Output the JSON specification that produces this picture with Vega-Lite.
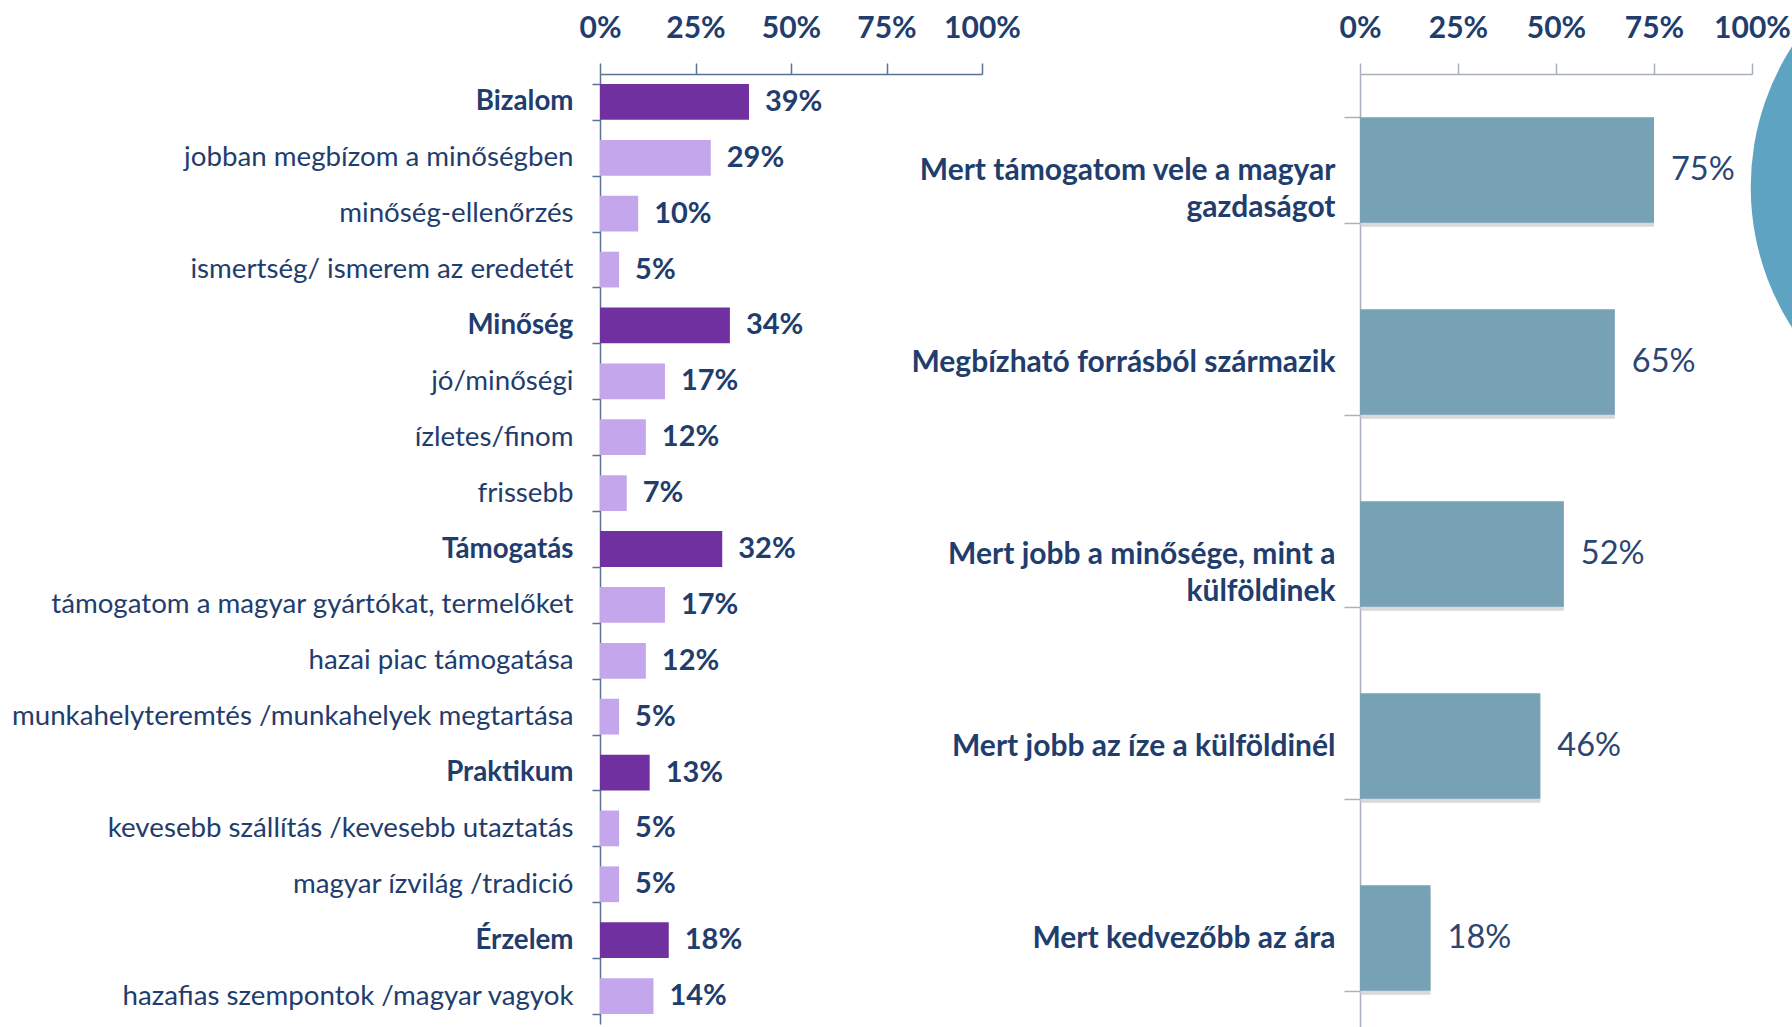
{
  "$schema": "https://vega.github.io/schema/vega-lite/v6.json",
  "background": "white",
  "padding": {"left": 11, "top": 13, "right": 0, "bottom": 0},
  "autosize": {"type": "pad"},
  "config": {
    "view": {"stroke": null},
    "font": "Lato",
    "axis": {"grid": false, "title": null, "labelFont": "Lato"}
  },
  "bounds": "flush",
  "spacing": 378,
  "hconcat": [
    {
      "width": 382,
      "height": 950,
      "data": {
        "values": [
          {"cat": "Bizalom", "v": 0.39, "level": "main"},
          {"cat": "jobban megbízom a minőségben", "v": 0.29, "level": "sub"},
          {"cat": "minőség-ellenőrzés", "v": 0.10, "level": "sub"},
          {"cat": "ismertség/ ismerem az eredetét", "v": 0.05, "level": "sub"},
          {"cat": "Minőség", "v": 0.34, "level": "main"},
          {"cat": "jó/minőségi", "v": 0.17, "level": "sub"},
          {"cat": "ízletes/finom", "v": 0.12, "level": "sub"},
          {"cat": "frissebb", "v": 0.07, "level": "sub"},
          {"cat": "Támogatás", "v": 0.32, "level": "main"},
          {"cat": "támogatom a magyar gyártókat, termelőket", "v": 0.17, "level": "sub"},
          {"cat": "hazai piac támogatása", "v": 0.12, "level": "sub"},
          {"cat": "munkahelyteremtés /munkahelyek megtartása", "v": 0.05, "level": "sub"},
          {"cat": "Praktikum", "v": 0.13, "level": "main"},
          {"cat": "kevesebb szállítás /kevesebb utaztatás", "v": 0.05, "level": "sub"},
          {"cat": "magyar ízvilág /tradició", "v": 0.05, "level": "sub"},
          {"cat": "Érzelem", "v": 0.18, "level": "main"},
          {"cat": "hazafias szempontok /magyar vagyok", "v": 0.14, "level": "sub"}
        ]
      },
      "encoding": {
        "y": {
          "field": "cat", "type": "nominal", "sort": null,
          "scale": {"paddingInner": 0.36, "paddingOuter": 0.18},
          "axis": {
            "tickBand": "extent", "tickSize": 8, "tickColor": "#5A7394", "domainColor": "#5A7394",
            "domainWidth": 1.5, "tickWidth": 1.5,
            "labelPadding": 19, "labelLimit": 800, "labelFontSize": 27.7, "labelColor": "#1F3D6D",
            "labelFontWeight": {"condition": {"test": "indexof(['Bizalom','Minőség','Támogatás','Praktikum','Érzelem'], datum.value) >= 0", "value": "bold"}, "value": "normal"}
          }
        },
        "x": {
          "field": "v", "type": "quantitative",
          "scale": {"domain": [0, 1]},
          "axis": {
            "orient": "top", "values": [0, 0.25, 0.5, 0.75, 1], "format": ".0%",
            "tickSize": 11, "tickColor": "#5A7394", "domainColor": "#5A7394", "domainWidth": 1.5, "tickWidth": 1.5,
            "labelFlush": false, "labelFontSize": 30, "labelFontWeight": "bold", "labelColor": "#1F3D6D",
            "labelPadding": 20
          }
        }
      },
      "layer": [
        {
          "mark": {"type": "bar"},
          "encoding": {
            "color": {"field": "level", "type": "nominal", "legend": null,
              "scale": {"domain": ["main", "sub"], "range": ["#7030A0", "#C3A6EB"]}}
          }
        },
        {
          "mark": {"type": "text", "align": "left", "baseline": "middle", "dx": 16, "fontWeight": "bold", "fontSize": 29, "color": "#1F3D6D"},
          "encoding": {"text": {"field": "v", "type": "quantitative", "format": ".0%"}}
        }
      ]
    },
    {
      "width": 392,
      "height": 960,
      "data": {
        "values": [
          {"label": "Mert támogatom vele a magyar|gazdaságot", "v": 0.75},
          {"label": "Megbízható forrásból származik", "v": 0.65},
          {"label": "Mert jobb a minősége, mint a|külföldinek", "v": 0.52},
          {"label": "Mert jobb az íze a külföldinél", "v": 0.46},
          {"label": "Mert kedvezőbb az ára", "v": 0.18}
        ]
      },
      "encoding": {
        "y": {
          "field": "label", "type": "nominal", "sort": null,
          "scale": {"paddingInner": 0.45, "paddingOuter": 0.225},
          "axis": {
            "tickBand": "extent", "tickSize": 16, "tickColor": "#A9B0BE", "domainColor": "#A9B0BE",
            "domainWidth": 1.5, "tickWidth": 1.5,
            "labelPadding": 9, "labelLimit": 800, "labelFontSize": 30, "labelFontWeight": "bold",
            "labelColor": "#1F3D6D", "labelLineHeight": 37,
            "labelExpr": "split(datum.label, '|')"
          }
        },
        "x": {
          "field": "v", "type": "quantitative",
          "scale": {"domain": [0, 1]},
          "axis": {
            "orient": "top", "values": [0, 0.25, 0.5, 0.75, 1], "format": ".0%",
            "tickSize": 11, "tickColor": "#A9B0BE", "domainColor": "#A9B0BE", "domainWidth": 1.5, "tickWidth": 1.5,
            "labelFlush": false, "labelFontSize": 30, "labelFontWeight": "bold", "labelColor": "#1F3D6D",
            "labelPadding": 20
          }
        }
      },
      "layer": [
        {
          "data": {"values": [{"label": "Mert támogatom vele a magyar|gazdaságot", "v": 1.66}]},
          "mark": {"type": "arc", "radius": 260, "theta": 4.0, "theta2": 5.4, "yOffset": 17, "color": "#5FA3C3"},
          "encoding": {}
        },
        {
          "mark": {"type": "bar", "color": "#C9C9C9", "opacity": 0.7, "yOffset": 4, "x2Offset": 3},
          "encoding": {}
        },
        {
          "mark": {"type": "bar", "color": "#77A1B4"},
          "encoding": {}
        },
        {
          "mark": {"type": "text", "align": "left", "baseline": "middle", "dx": 17, "fontSize": 32.5, "color": "#2B4670"},
          "encoding": {"text": {"field": "v", "type": "quantitative", "format": ".0%"}}
        }
      ]
    }
  ]
}
